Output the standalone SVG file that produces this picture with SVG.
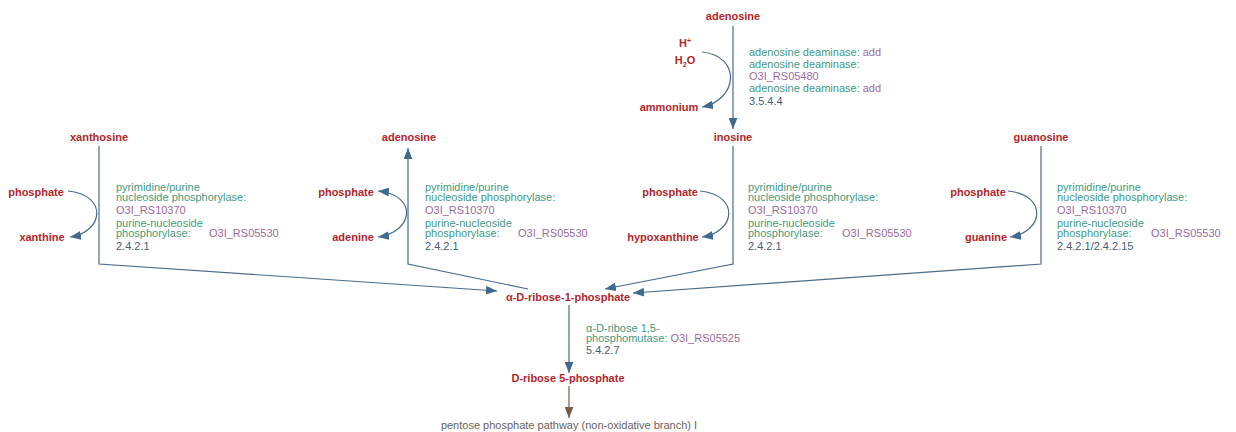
<svg xmlns="http://www.w3.org/2000/svg" width="1236" height="432" viewBox="0 0 1236 432">
<style>
.c{font-family:"Liberation Sans",Arial,sans-serif;font-size:11px;font-weight:bold;fill:#b3262b;text-anchor:middle}
.e{font-family:"Liberation Sans",Arial,sans-serif;font-size:11px;fill:#3f9a80}
.g{fill:#9b6b9b}
.n{fill:#4b5b73}
.l{fill:none;stroke:#4a6b8a;stroke-width:1.2}
.b{fill:none;stroke:#7b5a48;stroke-width:1.2}
.p{font-family:"Liberation Sans",Arial,sans-serif;font-size:11px;fill:#6a5f5a;text-anchor:middle}
</style>
<defs>
<marker id="a" viewBox="0 0 10 8" refX="10" refY="4" markerWidth="11" markerHeight="9" markerUnits="userSpaceOnUse" orient="auto-start-reverse"><path d="M0,0 L10,4 L0,8 Z" fill="#3f6a8e"/></marker>
<marker id="ab" viewBox="0 0 10 8" refX="10" refY="4" markerWidth="11" markerHeight="9" markerUnits="userSpaceOnUse" orient="auto"><path d="M0,0 L10,4 L0,8 Z" fill="#7b5a48"/></marker>
</defs>
<g id="connectors">
<path class="l" d="M733 26 L733 129" marker-end="url(#a)"/>
<path class="l" d="M702 52 C742 56 738 100 702 107" marker-end="url(#a)"/>
<path class="l" d="M99 146 L99 264 L497 291" marker-end="url(#a)"/>
<path class="l" d="M68 191 C108 195 104 232 70 237" marker-end="url(#a)"/>
<path class="l" d="M528 289 L408 264 L408 148" marker-end="url(#a)"/>
<path class="l" d="M378 191 C418 195 414 232 378 237" marker-start="url(#a)" marker-end="url(#a)"/>
<path class="l" d="M733 146 L733 264 L605 289" marker-end="url(#a)"/>
<path class="l" d="M700 191 C740 195 736 232 702 237" marker-end="url(#a)"/>
<path class="l" d="M1041 146 L1041 264 L633 293" marker-end="url(#a)"/>
<path class="l" d="M1008 191 C1048 195 1044 232 1010 237" marker-end="url(#a)"/>
<path class="l" d="M569 305 L569 373" marker-end="url(#a)"/>
<path class="b" d="M569 386 L569 418" marker-end="url(#ab)"/>
</g>
<g id="adenosine-top"><text class="c" x="733" y="20">adenosine</text></g>
<g id="hplus"><text class="c" x="685" y="47">H<tspan font-size="7" dy="-4">+</tspan></text></g>
<g id="h2o"><text class="c" x="685" y="64">H<tspan font-size="7" dy="3">2</tspan><tspan dy="-3">O</tspan></text></g>
<g id="ammonium"><text class="c" x="669" y="111">ammonium</text></g>
<g id="inosine"><text class="c" x="733" y="141">inosine</text></g>
<g id="xanthosine"><text class="c" x="99" y="141">xanthosine</text></g>
<g id="adenosine"><text class="c" x="409" y="141">adenosine</text></g>
<g id="guanosine"><text class="c" x="1041" y="141">guanosine</text></g>
<g id="phosphate1"><text class="c" x="36" y="196">phosphate</text></g>
<g id="xanthine"><text class="c" x="42" y="241">xanthine</text></g>
<g id="phosphate2"><text class="c" x="346" y="196">phosphate</text></g>
<g id="adenine"><text class="c" x="353" y="241">adenine</text></g>
<g id="phosphate3"><text class="c" x="670" y="196">phosphate</text></g>
<g id="hypoxanthine"><text class="c" x="663" y="241">hypoxanthine</text></g>
<g id="phosphate4"><text class="c" x="978" y="196">phosphate</text></g>
<g id="guanine"><text class="c" x="986" y="241">guanine</text></g>
<g id="ribose1p"><text class="c" x="568" y="301">α-D-ribose-1-phosphate</text></g>
<g id="ribose5p"><text class="c" x="568" y="382">D-ribose 5-phosphate</text></g>
<g id="pathway"><text class="p" x="569" y="429">pentose phosphate pathway (non-oxidative branch) I</text></g>
<g id="enz-deaminase">
<text class="e" x="749" y="56">adenosine deaminase: <tspan class="g">add</tspan></text>
<text class="e" x="749" y="68">adenosine deaminase:</text>
<text class="e g" x="749" y="80">O3I_RS05480</text>
<text class="e" x="749" y="92">adenosine deaminase: <tspan class="g">add</tspan></text>
<text class="e n" x="749" y="105">3.5.4.4</text>
</g>
<g id="enz-pnp1">
<text class="e" x="116" y="191">pyrimidine/purine</text>
<text class="e" x="116" y="201">nucleoside phosphorylase:</text>
<text class="e g" x="116" y="214">O3I_RS10370</text>
<text class="e" x="116" y="227">purine-nucleoside</text>
<text class="e" x="116" y="237">phosphorylase:</text>
<text class="e g" x="209" y="237">O3I_RS05530</text>
<text class="e n" x="116" y="250">2.4.2.1</text>
</g>
<g id="enz-pnp2">
<text class="e" x="425" y="191">pyrimidine/purine</text>
<text class="e" x="425" y="201">nucleoside phosphorylase:</text>
<text class="e g" x="425" y="214">O3I_RS10370</text>
<text class="e" x="425" y="227">purine-nucleoside</text>
<text class="e" x="425" y="237">phosphorylase:</text>
<text class="e g" x="518" y="237">O3I_RS05530</text>
<text class="e n" x="425" y="250">2.4.2.1</text>
</g>
<g id="enz-pnp3">
<text class="e" x="748" y="191">pyrimidine/purine</text>
<text class="e" x="748" y="201">nucleoside phosphorylase:</text>
<text class="e g" x="748" y="214">O3I_RS10370</text>
<text class="e" x="748" y="227">purine-nucleoside</text>
<text class="e" x="748" y="237">phosphorylase:</text>
<text class="e g" x="842" y="237">O3I_RS05530</text>
<text class="e n" x="748" y="250">2.4.2.1</text>
</g>
<g id="enz-pnp4">
<text class="e" x="1057" y="191">pyrimidine/purine</text>
<text class="e" x="1057" y="201">nucleoside phosphorylase:</text>
<text class="e g" x="1057" y="214">O3I_RS10370</text>
<text class="e" x="1057" y="227">purine-nucleoside</text>
<text class="e" x="1057" y="237">phosphorylase:</text>
<text class="e g" x="1151" y="237">O3I_RS05530</text>
<text class="e n" x="1057" y="250">2.4.2.1/2.4.2.15</text>
</g>
<g id="enz-mutase">
<text class="e" x="586" y="332">α-D-ribose 1,5-</text>
<text class="e" x="586" y="342">phosphomutase: <tspan class="g">O3I_RS05525</tspan></text>
<text class="e n" x="586" y="354">5.4.2.7</text>
</g>
</svg>
